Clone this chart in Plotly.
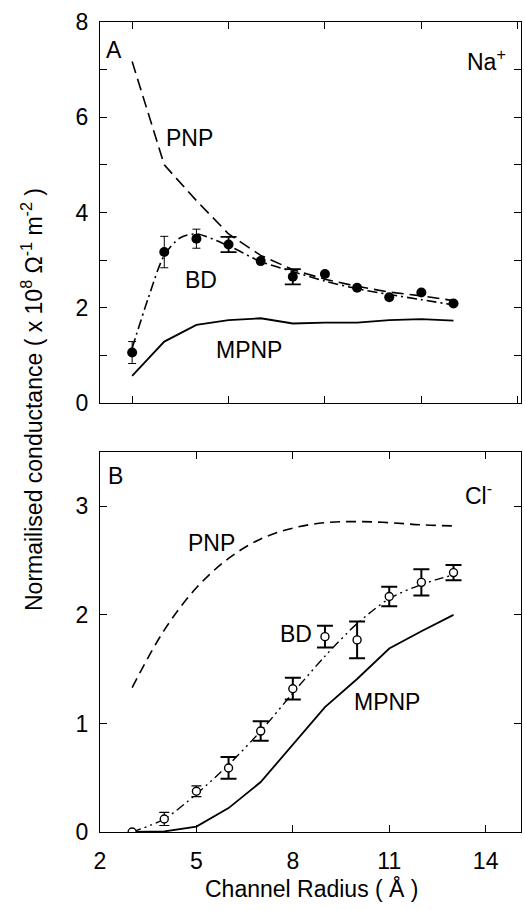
import plotly.graph_objects as go

# ---------------- data ----------------
radius = [3, 4, 5, 6, 7, 8, 9, 10, 11, 12, 13]

# Panel A (Na+)
na_bd = [1.06, 3.17, 3.45, 3.33, 2.98, 2.65, 2.71, 2.42, 2.22, 2.32, 2.09]
na_bd_err = [0.23, 0.33, 0.20, 0.16, 0.0, 0.16, 0.0, 0.0, 0.0, 0.0, 0.0]
na_pnp = [7.17, 5.0, 4.25, 3.55, 3.1, 2.8, 2.6, 2.45, 2.33, 2.25, 2.15]
na_mpnp = [0.57, 1.29, 1.64, 1.74, 1.78, 1.67, 1.69, 1.69, 1.74, 1.76, 1.73]
na_fit_x = [3, 3.5, 4, 4.5, 5, 6, 7, 8, 9, 10, 11, 12, 13]
na_fit_y = [1.15, 2.2, 3.1, 3.47, 3.55, 3.3, 2.97, 2.76, 2.56, 2.4, 2.28, 2.17, 2.06]

# Panel B (Cl-)
cl_bd = [0.0, 0.12, 0.375, 0.59, 0.93, 1.32, 1.80, 1.77, 2.17, 2.30, 2.39]
cl_bd_err = [0.0, 0.06, 0.05, 0.10, 0.09, 0.10, 0.10, 0.17, 0.09, 0.12, 0.07]
cl_pnp = [1.33, 1.86, 2.25, 2.52, 2.7, 2.8, 2.85, 2.86, 2.85, 2.83, 2.82]
cl_mpnp = [0.0, 0.005, 0.05, 0.22, 0.46, 0.81, 1.15, 1.41, 1.69, 1.85, 2.0]
cl_fit = [0.0, 0.12, 0.35, 0.62, 0.93, 1.28, 1.62, 1.92, 2.15, 2.28, 2.37]

ya_ticks = [0, 2, 4, 6, 8]
yb_ticks = [0, 1, 2, 3]
xb_ticks = [2, 5, 8, 11, 14]

FONT = "Liberation Sans, Arial, Helvetica, sans-serif"
BLACK = "black"

fig = go.Figure()

# ---- Panel A ----
fig.add_trace(go.Scatter(x=radius, y=na_pnp, mode="lines", xaxis="x", yaxis="y",
                         line=dict(color=BLACK, width=1.6, dash="12px,6px")))
fig.add_trace(go.Scatter(x=radius, y=na_mpnp, mode="lines", xaxis="x", yaxis="y",
                         line=dict(color=BLACK, width=1.8)))
fig.add_trace(go.Scatter(x=na_fit_x, y=na_fit_y, mode="lines", xaxis="x", yaxis="y",
                         line=dict(color=BLACK, width=1.6, dash="10px,4px,2px,4px",
                                   shape="spline", smoothing=0.8)))
# error bars (narrow caps for first points, wider caps for others)
narrow_a = [0, 1, 2]
wide_a = [i for i in range(len(radius)) if i not in narrow_a and na_bd_err[i] > 0]
fig.add_trace(go.Scatter(x=[radius[i] for i in narrow_a], y=[na_bd[i] for i in narrow_a],
                         mode="markers", xaxis="x", yaxis="y",
                         marker=dict(size=1, opacity=0),
                         error_y=dict(type="data", array=[na_bd_err[i] for i in narrow_a],
                                      color=BLACK, thickness=1, width=4)))
fig.add_trace(go.Scatter(x=[radius[i] for i in wide_a], y=[na_bd[i] for i in wide_a],
                         mode="markers", xaxis="x", yaxis="y",
                         marker=dict(size=1, opacity=0),
                         error_y=dict(type="data", array=[na_bd_err[i] for i in wide_a],
                                      color=BLACK, thickness=1.8, width=8)))
fig.add_trace(go.Scatter(x=radius, y=na_bd, mode="markers", xaxis="x", yaxis="y",
                         marker=dict(size=10, color=BLACK, line=dict(width=0))))

# ---- Panel B ----
fig.add_trace(go.Scatter(x=radius, y=cl_pnp, mode="lines", xaxis="x2", yaxis="y2",
                         line=dict(color=BLACK, width=1.6, dash="10px,6px",
                                   shape="spline", smoothing=1)))
fig.add_trace(go.Scatter(x=radius, y=cl_mpnp, mode="lines", xaxis="x2", yaxis="y2",
                         line=dict(color=BLACK, width=1.8)))
fig.add_trace(go.Scatter(x=radius, y=cl_fit, mode="lines", xaxis="x2", yaxis="y2",
                         line=dict(color=BLACK, width=1.4, dash="9px,4px,2px,4px,2px,4px",
                                   shape="spline", smoothing=0.8)))
narrow_b = [1, 2]
wide_b = [i for i in range(3, len(radius))]
fig.add_trace(go.Scatter(x=[radius[i] for i in narrow_b], y=[cl_bd[i] for i in narrow_b],
                         mode="markers", xaxis="x2", yaxis="y2",
                         marker=dict(size=1, opacity=0),
                         error_y=dict(type="data", array=[cl_bd_err[i] for i in narrow_b],
                                      color=BLACK, thickness=1.2, width=5)))
fig.add_trace(go.Scatter(x=[radius[i] for i in wide_b], y=[cl_bd[i] for i in wide_b],
                         mode="markers", xaxis="x2", yaxis="y2",
                         marker=dict(size=1, opacity=0),
                         error_y=dict(type="data", array=[cl_bd_err[i] for i in wide_b],
                                      color=BLACK, thickness=2, width=8)))
fig.add_trace(go.Scatter(x=radius, y=cl_bd, mode="markers", xaxis="x2", yaxis="y2",
                         marker=dict(size=8, color="white", line=dict(color=BLACK, width=1.4))))

axis_common = dict(showline=True, linecolor=BLACK, linewidth=1, mirror="ticks",
                   ticks="inside", ticklen=7, tickwidth=1, tickcolor=BLACK,
                   showgrid=False, zeroline=False,
                   tickfont=dict(family=FONT, size=23, color=BLACK))

fig.update_layout(
    width=525, height=910,
    margin=dict(l=100, r=4, t=22, b=78),
    paper_bgcolor="white", plot_bgcolor="white",
    showlegend=False,
    xaxis=dict(axis_common, domain=[0, 1], range=[2, 15.1], anchor="y",
               tickmode="linear", tick0=3, dtick=3, showticklabels=False),
    yaxis=dict(axis_common, domain=[0.5296, 1], range=[0, 8], anchor="x",
               tickmode="array", tickvals=ya_ticks, ticklabelstandoff=6,
               minor=dict(dtick=1, ticks="inside", ticklen=7, tickwidth=1,
                          tickcolor=BLACK, showgrid=False)),
    xaxis2=dict(axis_common, domain=[0, 1], range=[2, 15.1], anchor="y2",
                tickmode="array", tickvals=xb_ticks, ticklabelstandoff=8),
    yaxis2=dict(axis_common, domain=[0, 0.469], range=[0, 3.5], anchor="x2",
                tickmode="array", tickvals=yb_ticks, ticklabelstandoff=6),
)

ann_font = dict(family=FONT, size=23, color=BLACK)
annotations = [
    dict(text="A", x=2.45, y=7.41, xref="x", yref="y", xanchor="center", yanchor="middle"),
    dict(text="Na<sup>+</sup>", x=13.35, y=7.2, xref="x", yref="y", xanchor="left", yanchor="middle"),
    dict(text="PNP", x=4.77, y=5.57, xref="x", yref="y", xanchor="center", yanchor="middle"),
    dict(text="BD", x=5.14, y=2.58, xref="x", yref="y", xanchor="center", yanchor="middle"),
    dict(text="MPNP", x=6.63, y=1.11, xref="x", yref="y", xanchor="center", yanchor="middle"),
    dict(text="B", x=2.48, y=3.28, xref="x2", yref="y2", xanchor="center", yanchor="middle"),
    dict(text="Cl<sup>-</sup>", x=13.28, y=3.11, xref="x2", yref="y2", xanchor="left", yanchor="middle"),
    dict(text="PNP", x=5.48, y=2.66, xref="x2", yref="y2", xanchor="center", yanchor="middle"),
    dict(text="BD", x=8.09, y=1.82, xref="x2", yref="y2", xanchor="center", yanchor="middle"),
    dict(text="MPNP", x=10.92, y=1.20, xref="x2", yref="y2", xanchor="center", yanchor="middle"),
]
for a in annotations:
    a.update(showarrow=False, font=ann_font)
    fig.add_annotation(**a)

# axis titles as annotations (pixel-precise placement)
fig.add_annotation(text="Normailised conductance ( x 10<sup>8</sup> \u03a9<sup>-1</sup> m<sup>-2</sup> )",
                   xref="paper", yref="paper", x=-68 / 421, y=(832 - 400) / 810,
                   xanchor="center", yanchor="middle", textangle=-90,
                   showarrow=False, font=dict(family=FONT, size=23, color=BLACK))
fig.add_annotation(text="Channel Radius ( \u00c5 )",
                   xref="paper", yref="paper", x=(312 - 100) / 421, y=-(888 - 832) / 810,
                   xanchor="center", yanchor="middle",
                   showarrow=False, font=dict(family=FONT, size=23, color=BLACK))

fig.write_html("out.html")
